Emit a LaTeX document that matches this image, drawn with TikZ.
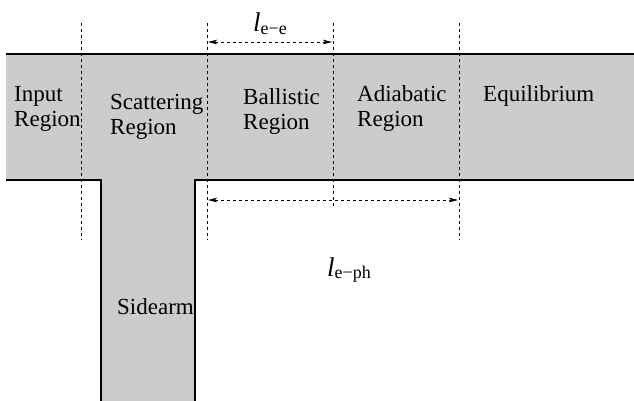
\documentclass[tikz,border=0pt]{standalone}
\usepackage{fontspec}
\setmainfont{Liberation Serif}
\usetikzlibrary{arrows.meta}
\begin{document}
\begin{tikzpicture}[x=1pt,y=-1pt,
  lbl/.style={anchor=base west,inner sep=0pt,align=left,font=\fontsize{23}{25}\selectfont},
  guide/.style={line width=0.8pt,dash pattern=on 3pt off 3pt},
  dim/.style={line width=0.8pt,dash pattern=on 3pt off 3pt,{Stealth[length=9pt,width=4.5pt,inset=2pt]}-{Stealth[length=9pt,width=4.5pt,inset=2pt]}},
  wall/.style={line width=1.3pt}]
\useasboundingbox (0,0) rectangle (634,401);
% channel
\fill[black!20] (6,54) rectangle (634,180);
\fill[black!20] (101,179) rectangle (195,401);
\draw[wall] (6,54) -- (634,54);
\draw[wall] (6,180) -- (101,180) -- (101,401);
\draw[wall] (195,401) -- (195,180) -- (634,180);
% guides
\coordinate (g1t) at (81,23);  \coordinate (g1b) at (81,240);
\coordinate (g2t) at (207,23); \coordinate (g2b) at (207,240);
\coordinate (g3t) at (333,23); \coordinate (g3b) at (333,207);
\coordinate (g4t) at (459,23); \coordinate (g4b) at (459,240);
\draw[guide] (g1t) -- (g1b);
\draw[guide] (g2t) -- (g2b);
\draw[guide] (g3t) -- (g3b);
\draw[guide] (g4t) -- (g4b);
% dimensions
\coordinate (ee1) at (208,42); \coordinate (ee2) at (332,42);
\coordinate (ep1) at (208,200); \coordinate (ep2) at (458,200);
\draw[dim] (ee1) -- (ee2);
\draw[dim] (ep1) -- (ep2);
\node[anchor=base west,inner sep=0pt] (lee) at (253,32)
  {\fontsize{27}{27}\selectfont\itshape l\/\raisebox{-2.5pt}{\fontsize{18}{18}\selectfont\upshape e\char"2212 e}};
\node[anchor=base west,inner sep=0pt] (lep) at (327,276)
  {\fontsize{27}{27}\selectfont\itshape l\/\raisebox{-2.5pt}{\fontsize{18}{18}\selectfont\upshape e\char"2212 ph}};
% labels (base anchor = baseline of last line)
\node[lbl] (inp) at (14,126.5) {Input\\Region};
\node[lbl] (sca) at (110,135) {Scattering\\Region};
\node[lbl] (bal) at (243,130) {Ballistic\\Region};
\node[lbl] (adi) at (357,126.5) {Adiabatic\\Region};
\node[lbl] (equ) at (483,101.5) {Equilibrium};
\node[lbl] (sid) at (117,314) {Sidearm};
\end{tikzpicture}
\end{document}
